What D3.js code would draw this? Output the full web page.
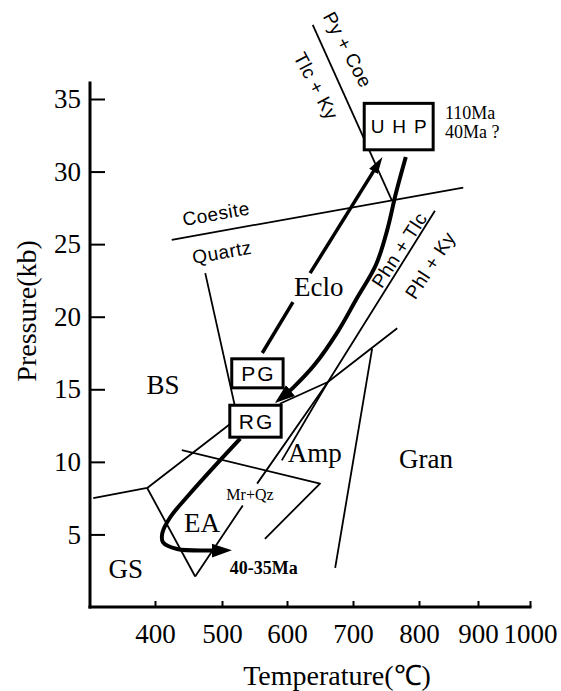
<!DOCTYPE html>
<html>
<head>
<meta charset="utf-8">
<script src="https://cdn.jsdelivr.net/npm/d3@7"></script>
<style>
body { margin: 0; background: #fff; }
.serif { font-family: "Liberation Serif", "Times New Roman", serif; }
.sans { font-family: "Liberation Sans", Arial, sans-serif; }
</style>
</head>
<body>
<div id="chart-area"></div>
<script>
var width = 561, height = 691;

// Axis ticks
var tempTicks = [400, 500, 600, 700, 800, 900, 1000];
var presTicks = [5, 10, 15, 20, 25, 30, 35];

// Reaction / facies boundaries, [T (C), P (kb)]
var coesiteLine = [[425, 25.3], [875, 28.9]];
var pyCoeLine = [[639, 40.1], [759, 28.0]];
var quartzLine = [[475, 23.0], [523, 13.2]];
var gsBsLine = [[305, 7.5], [388, 8.2], [515, 12.7]];
var gsEaLine = [[388, 8.2], [460, 2.1]];
var phnTlcLow = [[460, 2.1], [532, 7.0]];
var phnTlcHigh = [[554, 8.5], [662, 15.5], [827, 27.3]];
var ampLine = [[662, 15.5], [592, 10.1]];
var ecloAmpLine = [[589, 14.0], [662, 15.5], [767, 19.2]];
var granLine = [[729, 17.8], [673, 2.7]];
var mrQzLine = [[440, 10.8], [650, 8.5], [566, 4.7]];

// P-T path
var progradeLow = [[562, 17.5], [609, 21.0]];
var progradeHigh = [[635, 23.0], [739, 30.6]];
var retrograde = [[780, 31.0], [765, 28.5], [752, 26.0], [735, 23.6], [705, 21.2],
                  [676, 18.9], [642, 16.7], [609, 15.1], [591, 14.4]];
var exhumation = [[528, 11.6], [487, 9.6], [452, 7.8], [423, 6.2], [411, 5.1],
                  [412, 4.45], [433, 4.0], [488, 3.9], [503, 3.9]];

// Boxes: label, [T left, T right, P bottom, P top]
var boxNames = ["UHP", "PG", "RG"];
var boxExtents = [[717, 824, 31.5, 34.7], [515, 594, 15.1, 17.1], [512, 591, 11.7, 13.9]];

// Field names (serif)
var fieldNames = ["BS", "GS", "EA", "Amp", "Gran", "Eclo"];
var fieldAt = [[412, 14.7], [355, 1.97], [470, 5.14], [642, 9.97], [812, 9.55], [648, 21.4]];

// Reaction names (sans, rotated)
var reactionNames = ["Coesite", "Quartz", "Py + Coe", "Tlc + Ky", "Phn + Tlc", "Phl + Ky"];
var reactionAt = [[491, 27.1], [500, 24.45], [692, 38.4], [644, 35.9], [770, 24.6], [819, 23.55]];
var reactionAngle = [-10, -10, 62, 62, -57, -57];

// Age notes
var ageNames = ["110Ma", "40Ma ?", "40-35Ma"];
var ageAt = [[844, 33.6], [844, 32.3], [512, 2.3]];

var svg = d3.select("#chart-area").append("svg")
    .attr("width", width)
    .attr("height", height);

// Scales (temperature axis is hand drawn, unevenly spaced)
var x = d3.scaleLinear()
    .domain([300].concat(tempTicks))
    .range([90, 155, 222, 287, 353, 419, 478, 530]);

var y = d3.scaleLinear()
    .domain([0, 35])
    .range([607, 99]);

var line = d3.line()
    .x(function(d){ return x(d[0]); })
    .y(function(d){ return y(d[1]); });

var curve = d3.line()
    .curve(d3.curveCatmullRom)
    .x(function(d){ return x(d[0]); })
    .y(function(d){ return y(d[1]); });

// Arrow markers
var defs = svg.append("defs");
defs.append("marker")
    .attr("id", "arrowBig")
    .attr("markerUnits", "userSpaceOnUse")
    .attr("viewBox", "0 -8 22 16")
    .attr("markerWidth", 22).attr("markerHeight", 16)
    .attr("refX", 12).attr("refY", 0)
    .attr("orient", "auto")
  .append("path").attr("d", "M0,-7L20,0L0,7Z").attr("fill", "#000");
defs.append("marker")
    .attr("id", "arrowSmall")
    .attr("markerUnits", "userSpaceOnUse")
    .attr("viewBox", "0 -6 18 12")
    .attr("markerWidth", 18).attr("markerHeight", 12)
    .attr("refX", 10).attr("refY", 0)
    .attr("orient", "auto")
  .append("path").attr("d", "M0,-5L17,0L0,5Z").attr("fill", "#000");

// Thin boundaries
var thin = [coesiteLine, pyCoeLine, quartzLine, gsBsLine, gsEaLine, phnTlcLow,
            phnTlcHigh, ampLine, ecloAmpLine, granLine, mrQzLine];
svg.append("g").selectAll("path")
    .data(thin)
    .enter().append("path")
    .attr("d", line)
    .attr("fill", "none")
    .attr("stroke", "#000")
    .attr("stroke-width", 1.8)
    .attr("stroke-linejoin", "round");

// P-T path
svg.append("path").attr("d", line(progradeLow))
    .attr("fill", "none").attr("stroke", "#000").attr("stroke-width", 3.5);
svg.append("path").attr("d", line(progradeHigh))
    .attr("fill", "none").attr("stroke", "#000").attr("stroke-width", 3.5)
    .attr("marker-end", "url(#arrowSmall)");
svg.append("path").attr("d", curve(retrograde))
    .attr("fill", "none").attr("stroke", "#000").attr("stroke-width", 4)
    .attr("marker-end", "url(#arrowBig)");
svg.append("path").attr("d", curve(exhumation))
    .attr("fill", "none").attr("stroke", "#000").attr("stroke-width", 4)
    .attr("marker-end", "url(#arrowBig)");

// Boxes
var boxes = svg.append("g").selectAll("g")
    .data(boxNames)
    .enter().append("g");

boxes.append("rect")
    .attr("x", function(d, i){ return x(boxExtents[i][0]); })
    .attr("y", function(d, i){ return y(boxExtents[i][3]); })
    .attr("width", function(d, i){ return x(boxExtents[i][1]) - x(boxExtents[i][0]); })
    .attr("height", function(d, i){ return y(boxExtents[i][2]) - y(boxExtents[i][3]); })
    .attr("fill", "#fff")
    .attr("stroke", "#000")
    .attr("stroke-width", 3);

boxes.append("text")
    .attr("class", "sans")
    .attr("x", function(d, i){ return (x(boxExtents[i][0]) + x(boxExtents[i][1])) / 2; })
    .attr("y", function(d, i){ return (y(boxExtents[i][2]) + y(boxExtents[i][3])) / 2; })
    .attr("dy", "0.36em")
    .attr("dx", function(d){ return d == "UHP" ? 4 : 1; })
    .attr("text-anchor", "middle")
    .attr("font-size", function(d){ return d == "UHP" ? "19px" : "21px"; })
    .attr("letter-spacing", function(d){ return d == "UHP" ? "8px" : "2px"; })
    .text(function(d){ return d; });

// Field labels
svg.append("g").selectAll("text")
    .data(fieldNames)
    .enter().append("text")
    .attr("class", "serif")
    .attr("x", function(d, i){ return x(fieldAt[i][0]); })
    .attr("y", function(d, i){ return y(fieldAt[i][1]); })
    .attr("text-anchor", "middle")
    .attr("font-size", "27px")
    .text(function(d){ return d; });

// Reaction labels
svg.append("g").selectAll("text")
    .data(reactionNames)
    .enter().append("text")
    .attr("class", "sans")
    .attr("transform", function(d, i){
        return "translate(" + x(reactionAt[i][0]) + "," + y(reactionAt[i][1]) + ") rotate(" + reactionAngle[i] + ")";
    })
    .attr("dy", "0.35em")
    .attr("text-anchor", "middle")
    .attr("font-size", "19px")
    .attr("letter-spacing", "0.5px")
    .text(function(d){ return d; });

// Mr+Qz
svg.append("text")
    .attr("class", "serif")
    .attr("x", x(543)).attr("y", y(7.4))
    .attr("text-anchor", "middle")
    .attr("font-size", "16px")
    .text("Mr+Qz");

// Ages
svg.append("g").selectAll("text")
    .data(ageNames)
    .enter().append("text")
    .attr("class", "serif")
    .attr("x", function(d, i){ return x(ageAt[i][0]); })
    .attr("y", function(d, i){ return y(ageAt[i][1]); })
    .attr("font-size", "18px")
    .attr("font-weight", function(d, i){ return i == 2 ? "bold" : "normal"; })
    .text(function(d){ return d; });

// Axes
var xAxisCall = d3.axisBottom(x)
    .tickValues(tempTicks)
    .tickSizeInner(-6)
    .tickSizeOuter(0)
    .tickPadding(17)
    .tickFormat(d3.format("d"));

var xAxis = svg.append("g")
    .attr("transform", "translate(0," + y(0) + ")")
    .call(xAxisCall);

var yAxisCall = d3.axisLeft(y)
    .tickValues(presTicks)
    .tickSizeInner(-15)
    .tickSizeOuter(0)
    .tickPadding(9);

var yAxis = svg.append("g")
    .attr("transform", "translate(" + x(300) + ",0)")
    .call(yAxisCall);

[xAxis, yAxis].forEach(function(a){
    a.select(".domain").remove();
    a.selectAll(".tick line").attr("stroke", "#000").attr("stroke-width", 2);
    a.selectAll(".tick text")
        .attr("class", "serif")
        .attr("fill", "#000")
        .attr("font-size", "27px");
    a.attr("font-family", null).attr("font-size", null);
});

svg.append("line")
    .attr("x1", x(300)).attr("x2", x(1000))
    .attr("y1", y(0)).attr("y2", y(0))
    .attr("stroke", "#000").attr("stroke-width", 3)
    .attr("stroke-linecap", "square");

svg.append("line")
    .attr("x1", x(300)).attr("x2", x(300))
    .attr("y1", y(0)).attr("y2", y(36.1))
    .attr("stroke", "#000").attr("stroke-width", 3)
    .attr("stroke-linecap", "square");

// Axis titles
svg.append("text")
    .attr("class", "serif")
    .attr("x", (x(300) + x(1000)) / 2 + 27)
    .attr("y", 685)
    .attr("text-anchor", "middle")
    .attr("font-size", "28px")
    .text("Temperature(℃)");

svg.append("text")
    .attr("class", "serif")
    .attr("transform", "translate(36," + y(20.4) + ") rotate(-90)")
    .attr("text-anchor", "middle")
    .attr("font-size", "28px")
    .text("Pressure(kb)");
</script>
</body>
</html>
